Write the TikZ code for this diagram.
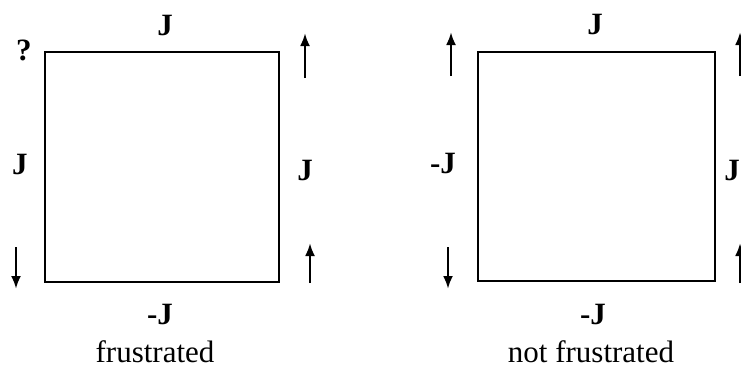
\documentclass[tikz,border=0pt]{standalone}
\usepackage{fontspec}
\setmainfont{Liberation Serif}
\usetikzlibrary{arrows.meta}
\begin{document}
\begin{tikzpicture}[x=1pt, y=-1pt, line cap=butt, line join=miter, >={Latex[length=13pt,width=10pt]},
  font=\fontsize{31}{37}\selectfont, cpl/.style={font=\fontsize{31}{37}\selectfont\bfseries},
  spin/.style={->, line width=2.6pt}, bond/.style={line width=2pt}]
	\useasboundingbox (0,0) rectangle (741,370);
	% frustrated plaquette
	\coordinate (fa) at (45,52); \coordinate (fc) at (279,282);
	\draw[bond] (fa) rectangle (fc);
	\node[cpl] (ftop) at (165,25) {J};
	\node[cpl] (fleft) at (20,164) {J};
	\node[cpl] (fright) at (305,170) {J};
	\node[cpl] (fbot) at (160,314) {-J};
	\node[cpl] (fq) at (24,50) {?};
	\node (fname) at (155,352) {frustrated};
	\coordinate (fs1) at (305,78); \coordinate (fs1t) at (305,33);
	\coordinate (fs2) at (16,247); \coordinate (fs2t) at (16,289);
	\coordinate (fs3) at (310,283); \coordinate (fs3t) at (310,243);
	\draw[spin] (fs1)--(fs1t);
	\draw[spin] (fs2)--(fs2t);
	\draw[spin] (fs3)--(fs3t);
	% unfrustrated plaquette
	\coordinate (na) at (478,52); \coordinate (nc) at (715,281);
	\draw[bond] (na) rectangle (nc);
	\node[cpl] (ntop) at (595,24) {J};
	\node[cpl] (nleft) at (443,163) {-J};
	\node[cpl] (nright) at (732,170) {J};
	\node[cpl] (nbot) at (593,314) {-J};
	\node (nname) at (591,352) {not frustrated};
	\coordinate (ns1) at (451,76); \coordinate (ns1t) at (451,32);
	\coordinate (ns2) at (448,247); \coordinate (ns2t) at (448,289);
	\coordinate (ns3) at (740,76); \coordinate (ns3t) at (740,32);
	\coordinate (ns4) at (740,283); \coordinate (ns4t) at (740,243);
	\draw[spin] (ns1)--(ns1t);
	\draw[spin] (ns2)--(ns2t);
	\draw[spin] (ns3)--(ns3t);
	\draw[spin] (ns4)--(ns4t);
\end{tikzpicture}
\end{document}
